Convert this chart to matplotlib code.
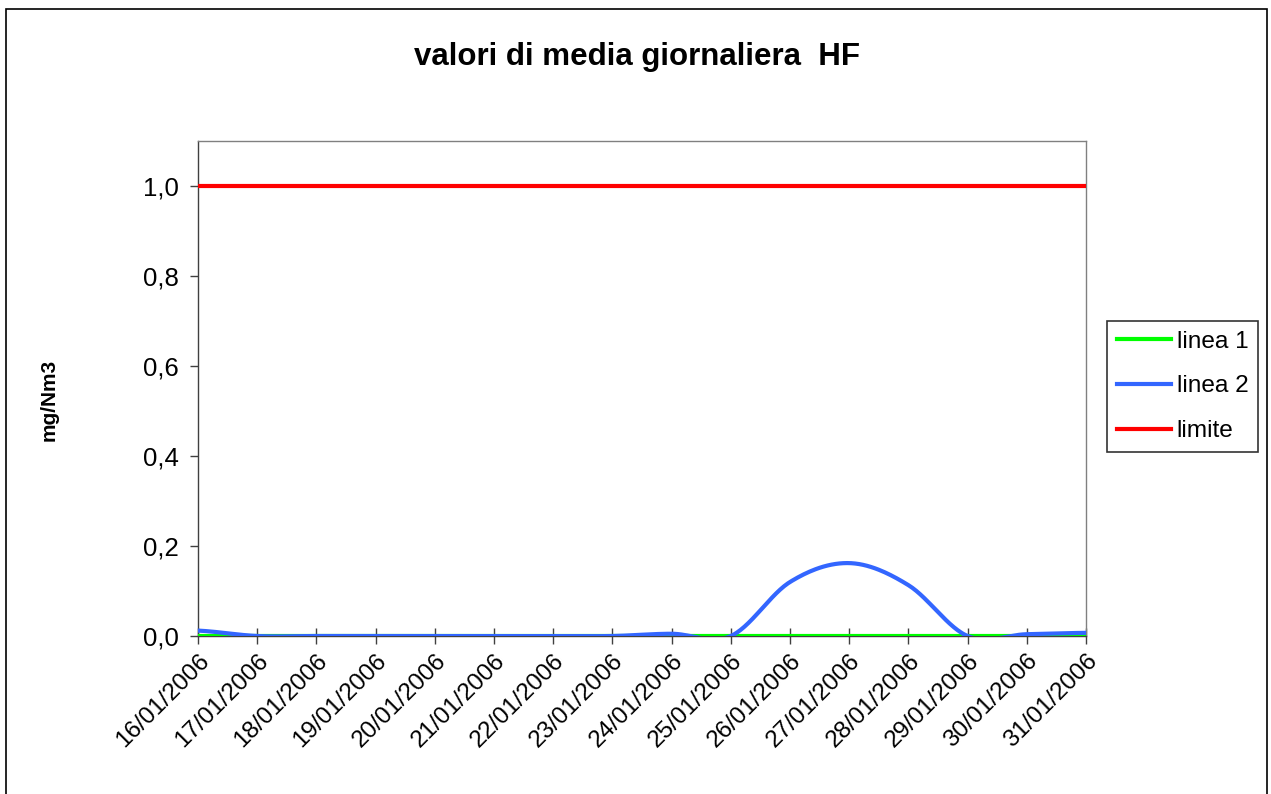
import numpy as np
import matplotlib
matplotlib.use("Agg")
import matplotlib.pyplot as plt
from matplotlib.patches import Rectangle
from matplotlib.ticker import FuncFormatter

dates = ["16/01/2006", "17/01/2006", "18/01/2006", "19/01/2006", "20/01/2006",
         "21/01/2006", "22/01/2006", "23/01/2006", "24/01/2006", "25/01/2006",
         "26/01/2006", "27/01/2006", "28/01/2006", "29/01/2006", "30/01/2006",
         "31/01/2006"]
linea1 = [0.0] * 16
linea2 = [0.012, 0.0, 0.0, 0.0, 0.0, 0.0, 0.0, 0.0, 0.005, 0.0,
          0.12, 0.162, 0.113, 0.0, 0.004, 0.007]
limite = [1.0] * 16

plt.rcParams['font.family'] = ['Liberation Sans', 'DejaVu Sans']


def smooth(y, n=30):
    """Catmull-Rom smoothing (like Excel's smoothed lines)."""
    y = np.asarray(y, float)
    x = np.arange(len(y), dtype=float)
    px = np.concatenate([[2 * x[0] - x[1]], x, [2 * x[-1] - x[-2]]])
    py = np.concatenate([[y[0]], y, [y[-1]]])
    xs, ys = [], []
    t = np.linspace(0, 1, n, endpoint=False)
    for i in range(1, len(px) - 2):
        p0, p1, p2, p3 = py[i - 1], py[i], py[i + 1], py[i + 2]
        m1 = (p2 - p0) / 2
        m2 = (p3 - p1) / 2
        h00 = 2 * t**3 - 3 * t**2 + 1
        h10 = t**3 - 2 * t**2 + t
        h01 = -2 * t**3 + 3 * t**2
        h11 = t**3 - t**2
        ys.append(h00 * p1 + h10 * m1 + h01 * p2 + h11 * m2)
        xs.append(px[i] + t * (px[i + 1] - px[i]))
    xs.append([x[-1]])
    ys.append([y[-1]])
    return np.concatenate(xs), np.concatenate(ys)


W, H = 1271, 794
fig = plt.figure(figsize=(W / 100, H / 100), dpi=100)
ax = fig.add_axes([198 / W, 1 - 636 / H, (1086 - 198) / W, (636 - 141) / H])

x = np.arange(len(dates))
ax.plot(x, linea1, color='#00FF00', lw=3, label='linea 1', zorder=3)
sx, sy = smooth(linea2)
ax.plot(sx, sy, color='#3366FF', lw=3, label='linea 2', zorder=4)
ax.plot(x, limite, color='#FF0000', lw=3, label='limite', zorder=3)

ax.set_xlim(0, len(dates) - 1)
ax.set_ylim(0, 1.1)
ax.set_yticks(np.arange(0, 1.01, 0.2))
ax.yaxis.set_major_formatter(FuncFormatter(lambda v, p: f"{v:.1f}".replace('.', ',')))
ax.set_xticks(x)
ax.set_xticklabels(dates, rotation=45, ha='right', rotation_mode='anchor')
ax.tick_params(axis='x', direction='inout', length=12, width=1, colors='#404040',
               labelcolor='black', labelsize=17.5, pad=4)
ax.tick_params(axis='y', direction='out', length=6, width=1, colors='#404040',
               labelcolor='black', labelsize=18.5, pad=8)
for s in ax.spines.values():
    s.set_color('#808080')
    s.set_linewidth(1)
ax.spines['left'].set_color('#404040')
ax.spines['bottom'].set_color('#404040')

fig.text(49 / W, 1 - 400 / H, 'mg/Nm3', rotation=90, ha='center', va='center',
         fontsize=15, fontweight='bold')
fig.text(637 / W, 1 - 65 / H, 'valori di media giornaliera  HF', ha='center',
         va='baseline', fontsize=22.5, fontweight='bold')

leg = ax.legend(loc='upper left', bbox_to_anchor=(1107 / W, 1 - 321 / H),
                bbox_transform=fig.transFigure, frameon=True, fancybox=False,
                fontsize=17.6, handlelength=2.2, handletextpad=0.25,
                borderpad=0.4, labelspacing=0.92, borderaxespad=0)
leg.get_frame().set_edgecolor('black')
leg.get_frame().set_linewidth(1.2)

fig.patches.append(Rectangle((6 / W, -0.05), (1267 - 6) / W, 1.05 - 9 / H,
                             transform=fig.transFigure, fill=False,
                             edgecolor='black', lw=1.2))

fig.savefig('out.png', dpi=100)
